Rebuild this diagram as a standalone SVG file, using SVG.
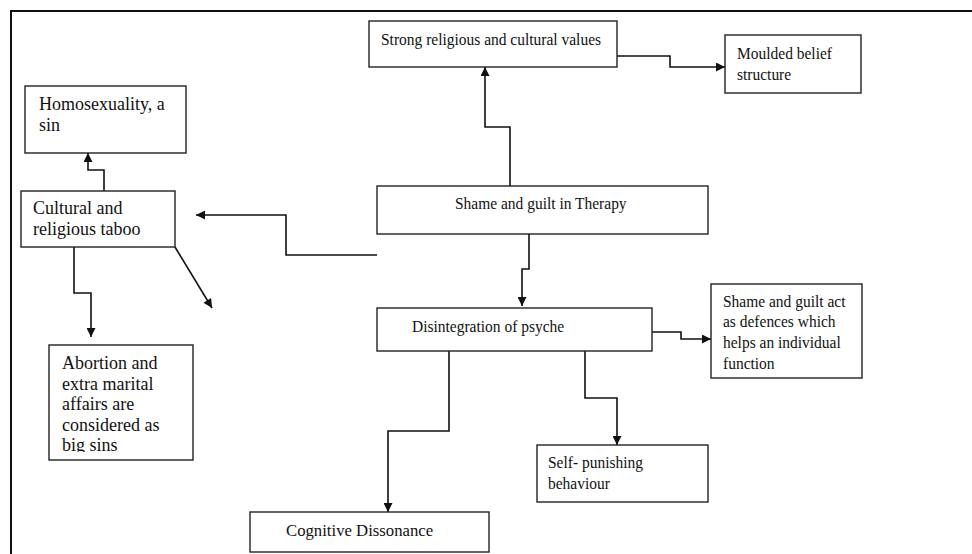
<svg xmlns="http://www.w3.org/2000/svg" width="972" height="554" viewBox="0 0 972 554">
<style>
.box{fill:#fff;stroke:#222;stroke-width:1.4}
.t{font-family:"Liberation Serif","Times New Roman",serif;font-size:18px;fill:#111}
.c{font-family:"Liberation Serif","Times New Roman",serif;font-size:17.6px;fill:#111}
.edge{fill:none;stroke:#111;stroke-width:1.6}
</style>
<defs>
<marker id="ah" viewBox="0 0 10 10" refX="10" refY="5" markerWidth="10" markerHeight="9" markerUnits="userSpaceOnUse" orient="auto">
<path d="M0,0 L10,5 L0,10 Z" fill="#111"/>
</marker>
<clipPath id="clipAb"><rect x="49" y="345" width="144" height="107"/></clipPath>
</defs>
<rect width="972" height="554" fill="#fff"/>
<path d="M11,554 V11 H972" fill="none" stroke="#111" stroke-width="2"/>

<g id="connectors">
<path class="edge" marker-end="url(#ah)" d="M510,186 V127 H485 V67"/>
<path class="edge" marker-end="url(#ah)" d="M617,56 H670 V67 H725"/>
<path class="edge" marker-end="url(#ah)" d="M377,255 H286 V215 H196"/>
<path class="edge" marker-end="url(#ah)" d="M104,191 V170 H88 V153"/>
<path class="edge" marker-end="url(#ah)" d="M74,247 V293 H91 V337"/>
<path class="edge" marker-end="url(#ah)" d="M175,247 L212,308"/>
<path class="edge" marker-end="url(#ah)" d="M529,234 V269 H522 V306"/>
<path class="edge" marker-end="url(#ah)" d="M649,332 H681 V339 H711"/>
<path class="edge" marker-end="url(#ah)" d="M585,351 V398 H617 V445"/>
<path class="edge" marker-end="url(#ah)" d="M449,351 V431 H388 V512"/>
</g>

<g id="strong">
<rect class="box" x="369" y="21" width="248" height="46"/>
<text class="c" transform="translate(381,45) scale(0.88,1)">Strong religious and cultural values</text>
</g>
<g id="moulded">
<rect class="box" x="725" y="35" width="136" height="58"/>
<text class="c" transform="translate(737,59) scale(0.88,1)">Moulded belief</text>
<text class="c" transform="translate(737,80) scale(0.88,1)">structure</text>
</g>
<g id="therapy">
<rect class="box" x="377" y="186" width="331" height="48"/>
<text class="c" transform="translate(455,209) scale(0.88,1)">Shame and guilt in Therapy</text>
</g>
<g id="homosexuality">
<rect class="box" x="25" y="86" width="161" height="67"/>
<text class="t" x="39" y="110">Homosexuality, a</text>
<text class="t" x="39" y="131">sin</text>
</g>
<g id="taboo">
<rect class="box" x="21" y="191" width="154" height="56"/>
<text class="t" x="33" y="214">Cultural and</text>
<text class="t" x="33" y="235">religious taboo</text>
</g>
<g id="abortion">
<rect class="box" x="49" y="345" width="144" height="115"/>
<g clip-path="url(#clipAb)">
<text class="t" x="62" y="369">Abortion and</text>
<text class="t" x="62" y="390">extra marital</text>
<text class="t" x="62" y="410">affairs are</text>
<text class="t" x="62" y="431">considered as</text>
<text class="t" x="62" y="451">big sins</text>
</g>
</g>
<g id="disintegration">
<rect class="box" x="377" y="308" width="275" height="43"/>
<text class="c" transform="translate(412,332) scale(0.88,1)">Disintegration of psyche</text>
</g>
<g id="defences">
<rect class="box" x="711" y="284" width="151" height="94"/>
<text class="c" transform="translate(723,307) scale(0.88,1)">Shame and guilt act</text>
<text class="c" transform="translate(723,327) scale(0.88,1)">as defences which</text>
<text class="c" transform="translate(723,348) scale(0.88,1)">helps an individual</text>
<text class="c" transform="translate(723,369) scale(0.88,1)">function</text>
</g>
<g id="selfpunishing">
<rect class="box" x="537" y="445" width="171" height="57"/>
<text class="c" transform="translate(548,468) scale(0.88,1)">Self- punishing</text>
<text class="c" transform="translate(548,489) scale(0.88,1)">behaviour</text>
</g>
<g id="cognitive">
<rect class="box" x="250" y="512" width="239" height="40"/>
<text class="c" transform="translate(286,536) scale(0.95,1)">Cognitive Dissonance</text>
</g>
</svg>
